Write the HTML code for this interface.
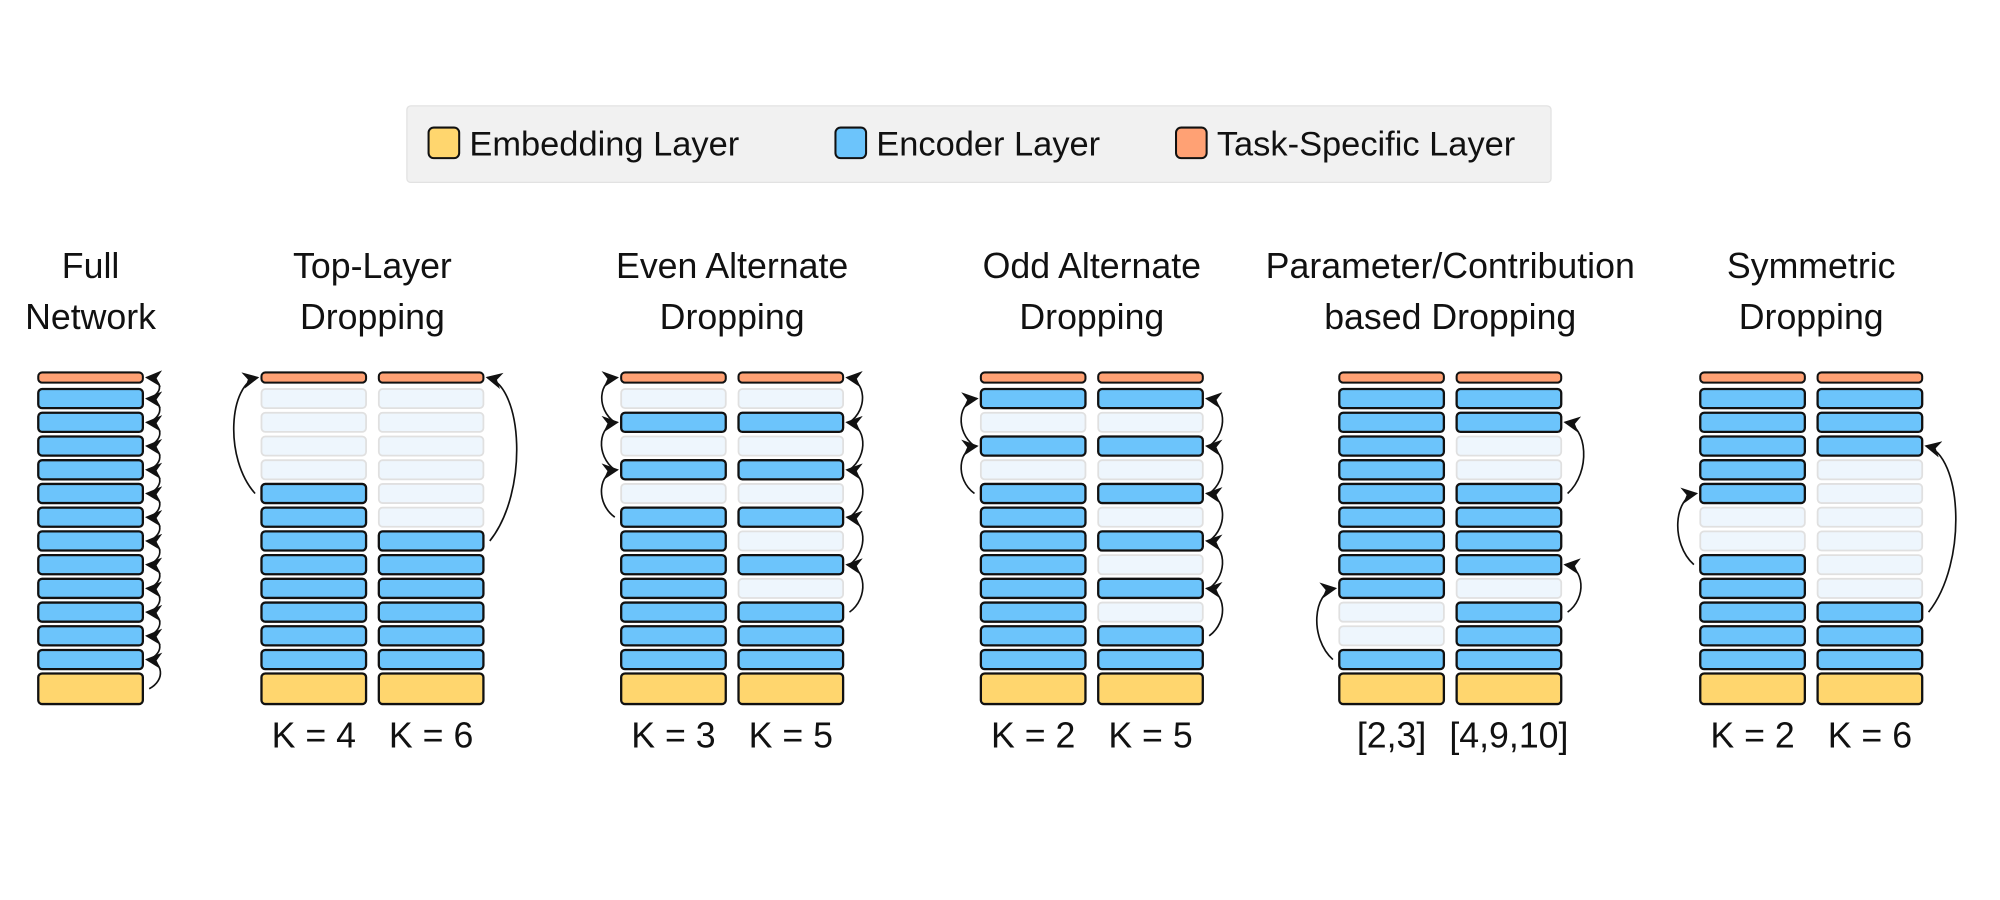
<!DOCTYPE html>
<html><head><meta charset="utf-8"><style>
html,body{margin:0;padding:0;background:#fff;}
svg{display:block;font-family:"Liberation Sans",sans-serif;}
</style></head><body>
<svg id="fig" width="2000" height="900" viewBox="0 0 1568 705.6" xmlns="http://www.w3.org/2000/svg">
<defs>
<marker id="ah" viewBox="0 0 10 10" refX="9" refY="5" markerWidth="13" markerHeight="13" orient="auto" markerUnits="userSpaceOnUse">
<path d="M0,0 L10,5 L0,10 L3,5 z" fill="#111"/>
</marker>
</defs>
<g>
<rect x="319" y="83" width="897" height="60" rx="3" fill="#f1f1f1" stroke="#e2e2e2"/>
<rect x="336" y="100" width="24" height="24" rx="4" fill="#ffd66e" stroke="#111" stroke-width="1.6"/>
<text x="368" y="122" font-size="27" fill="#111">Embedding Layer</text>
<rect x="655" y="100" width="24" height="24" rx="4" fill="#6cc4fb" stroke="#111" stroke-width="1.6"/>
<text x="687" y="122" font-size="27" fill="#111">Encoder Layer</text>
<rect x="922" y="100" width="24" height="24" rx="4" fill="#ffa174" stroke="#111" stroke-width="1.6"/>
<text x="954" y="122" font-size="27" fill="#111">Task-Specific Layer</text>
</g>
<g id="cols"></g>
</svg>
<script>
// Data: groups, titles, per-column dropped rows (0 = top encoder), labels, skip arrows
const groupTitles = [["Full","Network"],["Top-Layer","Dropping"],["Even Alternate","Dropping"],["Odd Alternate","Dropping"],["Parameter/Contribution","based Dropping"],["Symmetric","Dropping"]];
const groupX = [30, 205, 487, 769, 1050, 1333];
const colLabels = [[""],["K = 4","K = 6"],["K = 3","K = 5"],["K = 2","K = 5"],["[2,3]","[4,9,10]"],["K = 2","K = 6"]];
const dropped = [
  [[]],
  [[0,1,2,3],[0,1,2,3,4,5]],
  [[0,2,4],[0,2,4,6,8]],
  [[1,3],[1,3,5,7,9]],
  [[9,10],[2,3,8]],
  [[5,6],[3,4,5,6,7,8]]
];
// arrows: [fromRow, toRow]; -1 = task layer, 12 = embedding
const arrows = [
  [[[12,11],[11,10],[10,9],[9,8],[8,7],[7,6],[6,5],[5,4],[4,3],[3,2],[2,1],[1,0],[0,-1]]],
  [[[4,-1]],[[6,-1]]],
  [[[5,3],[3,1],[1,-1]],[[9,7],[7,5],[5,3],[3,1],[1,-1]]],
  [[[4,2],[2,0]],[[10,8],[8,6],[6,4],[4,2],[2,0]]],
  [[[11,8]],[[9,7],[4,1]]],
  [[[7,4]],[[9,2]]]
];
const NL = 12, W = 82, GAP = 10, TOP = 305, PITCH = 18.6, RH = 15;
const svg = document.getElementById('cols');
const NS = "http://www.w3.org/2000/svg";
function mk(tag, attrs){const e=document.createElementNS(NS,tag);for(const k in attrs)e.setAttribute(k,attrs[k]);return e;}
function rowY(r){ if(r===-1) return 296; if(r===12) return 540; return TOP + r*PITCH + RH/2; }
groupTitles.forEach((t,g)=>{
  const ncol = dropped[g].length;
  const cx = groupX[g] + (ncol*W + (ncol-1)*GAP)/2;
  t.forEach((line,i)=>{
    const tx = mk('text',{x:cx,y:218+i*40,'font-size':28,'text-anchor':'middle',fill:'#111'});
    
    
    tx.textContent=line; svg.appendChild(tx);
  });
  dropped[g].forEach((dr,c)=>{
    const x = groupX[g] + c*(W+GAP);
    const gEl = mk('g',{});
    
    
    svg.appendChild(gEl);
    const task = mk('rect',{x:x,y:292,width:W,height:8,rx:3,fill:'#ffa174',stroke:'#111','stroke-width':1.6});
    
    
    gEl.appendChild(task);
    for(let r=0;r<NL;r++){
      const d = dr.includes(r);
      const re = mk('rect',{x:x,y:TOP+r*PITCH,width:W,height:RH,rx:3,
        fill:d?'#eef6fd':'#6cc4fb',stroke:d?'#e0e0e0':'#111','stroke-width':d?1.4:1.8});
      
      
      gEl.appendChild(re);
    }
    const emb = mk('rect',{x:x,y:528,width:W,height:24,rx:3,fill:'#ffd66e',stroke:'#111','stroke-width':1.8});
    
    
    gEl.appendChild(emb);
    const lbl = colLabels[g][c];
    if(lbl){
      const tx = mk('text',{x:x+W/2,y:586,'font-size':28,'text-anchor':'middle',fill:'#111'});
      
      
      tx.textContent=lbl; gEl.appendChild(tx);
    }
    const right = (ncol===1) || c===1;
    const edge = right ? x+W+3 : x-3;
    const sgn = right ? 1 : -1;
    (arrows[g][c]||[]).forEach(a=>{
      const y1 = rowY(a[0]), y2 = rowY(a[1]);
      const span = Math.abs(y1-y2);
      const bulge = Math.min(8 + span*0.12, 24);
      const xs = edge + sgn*2, xe = edge;
      const p = mk('path',{d:`M${xs},${y1} C${edge+sgn*bulge*1.4},${y1-span*0.3} ${edge+sgn*bulge*1.2},${y2+span*0.05} ${xe},${y2}`,
        fill:'none',stroke:'#111','stroke-width':1.3,'marker-end':'url(#ah)'});
      
      
      gEl.appendChild(p);
    });
  });
});
</script>
</body></html>
